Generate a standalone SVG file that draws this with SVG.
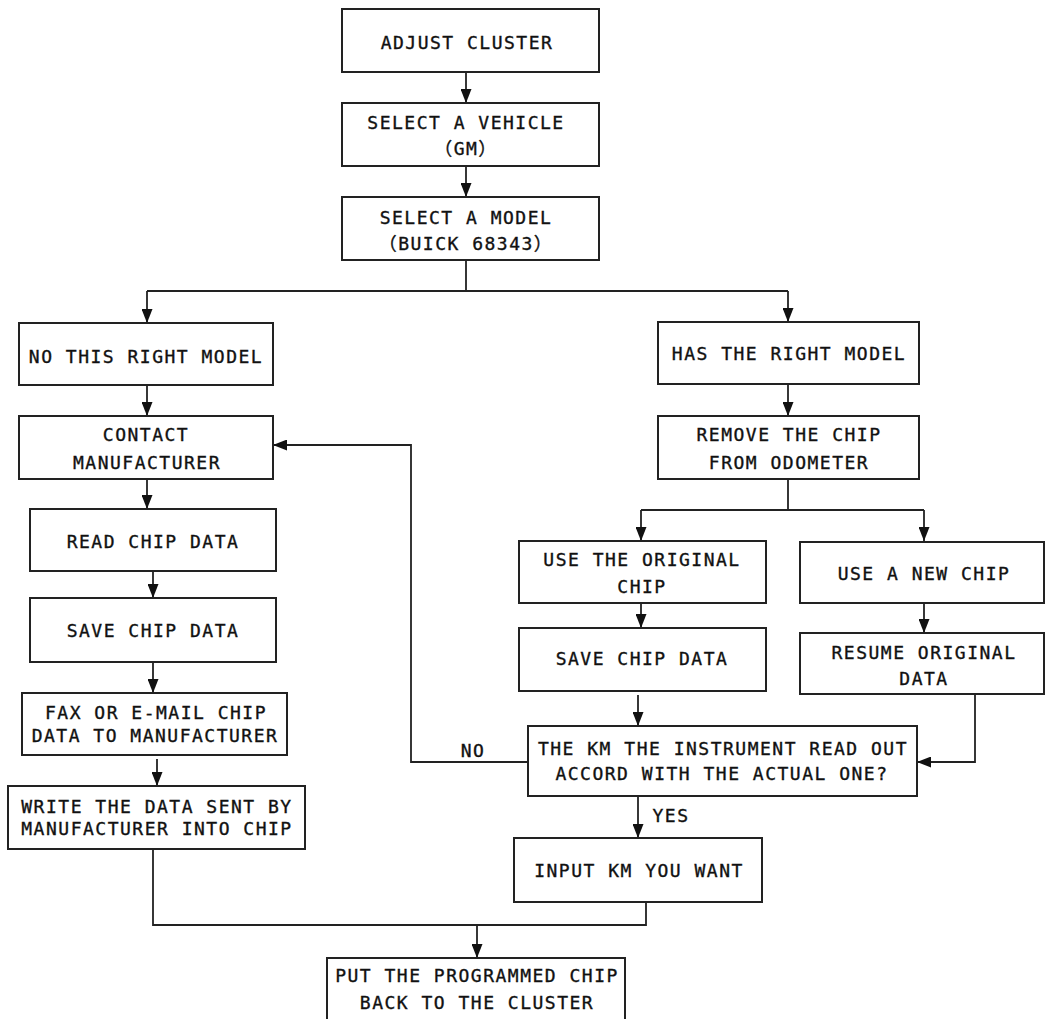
<svg xmlns="http://www.w3.org/2000/svg" width="1045" height="1019" viewBox="0 0 1045 1019">
<defs>
<marker id="arr" markerUnits="userSpaceOnUse" markerWidth="14" markerHeight="11" refX="14" refY="5.5" orient="auto">
<path d="M0,0 L14,5.5 L0,11 z" fill="#111"/>
</marker>
<style>
.box{fill:#fff;stroke:#222;stroke-width:2}
.t{font-family:"DejaVu Sans Mono","Noto Sans CJK SC",monospace;font-size:18px;letter-spacing:1.5px;fill:#111;stroke:#111;stroke-width:0.35px;text-anchor:middle;dominant-baseline:central}
.c{fill:none;stroke:#222;stroke-width:1.8}
.a{marker-end:url(#arr)}
</style>
</defs>
<rect width="1045" height="1019" fill="#fff"/>
<g id="connectors">
<path class="c a" d="M466,72 V103"/>
<path class="c a" d="M466,166 V197"/>
<path class="c" d="M466,260 V291 M147,291 H788"/>
<path class="c a" d="M147,291 V323"/>
<path class="c a" d="M788,291 V322"/>
<path class="c a" d="M147,385 V416"/>
<path class="c a" d="M147,479 V509"/>
<path class="c a" d="M153,571 V598"/>
<path class="c a" d="M153,662 V693"/>
<path class="c a" d="M157,759 V786"/>
<path class="c" d="M153,849 V925 H646 V902"/>
<path class="c a" d="M477,925 V958"/>
<path class="c a" d="M788,384 V416"/>
<path class="c" d="M788,479 V510 M641,510 H924"/>
<path class="c a" d="M641,510 V541"/>
<path class="c a" d="M924,510 V541"/>
<path class="c a" d="M641,603 V628"/>
<path class="c a" d="M924,603 V633"/>
<path class="c a" d="M638,695 V726"/>
<path class="c a" d="M975,694 V762 H917"/>
<path class="c a" d="M528,762 H411 V445 H273"/>
<path class="c a" d="M638,796 V838"/>
<text class="t" x="473" y="750">NO</text>
<text class="t" x="671" y="815">YES</text>
</g>
<g id="n1"><rect class="box" x="342" y="9" width="257" height="63"/><text class="t" x="467" y="42">ADJUST CLUSTER</text></g>
<g id="n2"><rect class="box" x="342" y="103" width="257" height="63"/><text class="t" x="466" y="122">SELECT A VEHICLE</text><text class="t" x="466" y="148">（GM）</text></g>
<g id="n3"><rect class="box" x="342" y="197" width="257" height="63"/><text class="t" x="466" y="217">SELECT A MODEL</text><text class="t" x="466" y="243">（BUICK 68343）</text></g>
<g id="n4"><rect class="box" x="19" y="323" width="254" height="62"/><text class="t" x="146" y="356">NO THIS RIGHT MODEL</text></g>
<g id="n5"><rect class="box" x="19" y="416" width="254" height="63"/><text class="t" x="146" y="434">CONTACT</text><text class="t" x="147" y="462">MANUFACTURER</text></g>
<g id="n6"><rect class="box" x="30" y="509" width="246" height="62"/><text class="t" x="153" y="541">READ CHIP DATA</text></g>
<g id="n7"><rect class="box" x="30" y="598" width="246" height="64"/><text class="t" x="153" y="630">SAVE CHIP DATA</text></g>
<g id="n8"><rect class="box" x="22" y="693" width="265" height="62"/><text class="t" x="156" y="712">FAX OR E-MAIL CHIP</text><text class="t" x="155" y="735">DATA TO MANUFACTURER</text></g>
<g id="n9"><rect class="box" x="8" y="786" width="297" height="63"/><text class="t" x="157" y="806">WRITE THE DATA SENT BY</text><text class="t" x="157" y="828">MANUFACTURER INTO CHIP</text></g>
<g id="n10"><rect class="box" x="658" y="322" width="261" height="62"/><text class="t" x="789" y="353">HAS THE RIGHT MODEL</text></g>
<g id="n11"><rect class="box" x="658" y="416" width="261" height="63"/><text class="t" x="789" y="434">REMOVE THE CHIP</text><text class="t" x="789" y="462">FROM ODOMETER</text></g>
<g id="n12"><rect class="box" x="519" y="541" width="247" height="62"/><text class="t" x="642" y="559">USE THE ORIGINAL</text><text class="t" x="642" y="586">CHIP</text></g>
<g id="n13"><rect class="box" x="800" y="542" width="244" height="61"/><text class="t" x="924" y="573">USE A NEW CHIP</text></g>
<g id="n14"><rect class="box" x="519" y="628" width="247" height="63"/><text class="t" x="642" y="658">SAVE CHIP DATA</text></g>
<g id="n15"><rect class="box" x="800" y="633" width="244" height="61"/><text class="t" x="924" y="652">RESUME ORIGINAL</text><text class="t" x="924" y="678">DATA</text></g>
<g id="n16"><rect class="box" x="528" y="726" width="389" height="70"/><text class="t" x="723" y="748">THE KM THE INSTRUMENT READ OUT</text><text class="t" x="722" y="773">ACCORD WITH THE ACTUAL ONE?</text></g>
<g id="n17"><rect class="box" x="514" y="838" width="248" height="64"/><text class="t" x="639" y="870">INPUT KM YOU WANT</text></g>
<g id="n18"><rect class="box" x="327" y="958" width="298" height="80"/><text class="t" x="477" y="975">PUT THE PROGRAMMED CHIP</text><text class="t" x="477" y="1002">BACK TO THE CLUSTER</text></g>
</svg>
